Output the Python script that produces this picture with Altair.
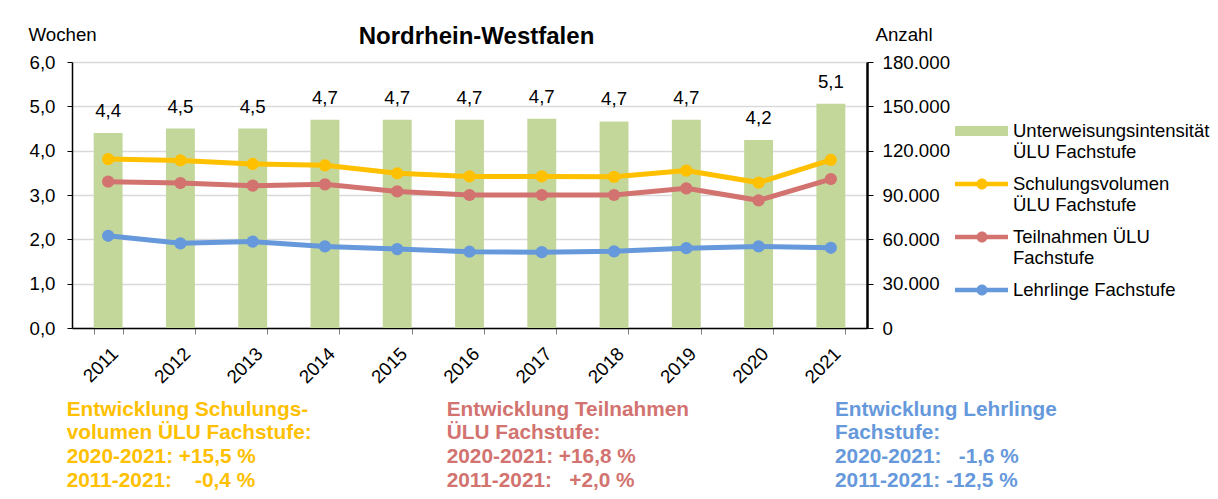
import altair as alt
import pandas as pd

# ---------------- data ----------------
years = ["2011", "2012", "2013", "2014", "2015", "2016", "2017", "2018", "2019", "2020", "2021"]
intensitaet = [4.40, 4.50, 4.50, 4.70, 4.70, 4.70, 4.72, 4.66, 4.70, 4.24, 5.06]
schulungsvolumen = [114300, 113400, 111000, 110100, 104700, 102600, 102600, 102300, 106500, 98400, 113700]
teilnahmen = [99000, 98100, 96300, 97200, 92400, 90000, 90000, 90000, 94500, 86400, 100800]
lehrlinge = [62400, 57300, 58500, 55200, 53400, 51600, 51300, 51900, 54000, 55200, 54300]

series_names = ["Schulungsvolumen ÜLU Fachstufe", "Teilnahmen ÜLU Fachstufe", "Lehrlinge Fachstufe"]
series_colors = ["#FFC000", "#D27370", "#6699DB"]
bar_color = "#C4D79B"

legend_labels = ["Unterweisungsintensität|ÜLU Fachstufe", "Schulungsvolumen|ÜLU Fachstufe",
                 "Teilnahmen ÜLU|Fachstufe", "Lehrlinge Fachstufe"]

NB = "\u00a0"
text_yellow = ["Entwicklung Schulungs-", "volumen ÜLU Fachstufe:", "2020-2021: +15,5 %",
               "2011-2021:" + NB * 4 + "-0,4 %"]
text_red = ["Entwicklung Teilnahmen", "ÜLU Fachstufe:", "2020-2021: +16,8 %",
            "2011-2021:" + NB * 3 + "+2,0 %"]
text_blue = ["Entwicklung Lehrlinge", "Fachstufe:", "2020-2021:" + NB * 3 + "-1,6 %",
             "2011-2021: -12,5 %"]

FONT = "Liberation Sans"
FS = 18.7
W, H = 795, 266

# ---------------- tables ----------------
bars_df = pd.DataFrame({"Jahr": years, "Wochen": intensitaet})
rows = []
for name, vals in zip(series_names, [schulungsvolumen, teilnahmen, lehrlinge]):
    for y, v in zip(years, vals):
        rows.append({"Jahr": y, "Serie": name, "Anzahl": v})
lines_df = pd.DataFrame(rows)
legend_df = pd.DataFrame({"Legende": legend_labels})

x_enc = alt.X("Jahr:O", sort=years,
              scale=alt.Scale(paddingInner=0.6, paddingOuter=0.3),
              axis=alt.Axis(title=None, labelAngle=-45, labelFontSize=FS, labelFont=FONT,
                            labelColor="black", tickBand="extent", tickSize=6, tickColor="#7f7f7f",
                            domainColor="black", domainWidth=1.5, labelPadding=10, grid=False))

left_axis = alt.Axis(title="Wochen", titleAngle=0, titleX=-44, titleY=-22, titleAlign="left",
                     titleBaseline="alphabetic", titleFont=FONT, titleFontSize=FS, titleFontWeight="normal",
                     titleColor="black",
                     values=[0, 1, 2, 3, 4, 5, 6], labelExpr="replace(format(datum.value, '.1f'), '.', ',')",
                     labelFont=FONT, labelFontSize=FS, labelColor="black", labelPadding=12,
                     tickSize=5, tickColor="black", domainColor="black", domainWidth=1.5,
                     grid=True, gridColor="#D9D9D9", gridWidth=1.5, orient="left")

right_axis = alt.Axis(title="Anzahl", titleAngle=0, titleX=8, titleY=-22, titleAlign="left",
                      titleBaseline="alphabetic", titleFont=FONT, titleFontSize=FS, titleFontWeight="normal",
                      titleColor="black",
                      values=[0, 30000, 60000, 90000, 120000, 150000, 180000],
                      labelExpr="replace(format(datum.value, ',d'), ',', '.')",
                      labelFont=FONT, labelFontSize=FS, labelColor="black", labelPadding=9,
                      tickSize=6, tickColor="black", domainColor="black", domainWidth=2.5,
                      grid=False, orient="right")

base_bar = alt.Chart(bars_df)
bars = base_bar.mark_bar(color=bar_color).encode(
    x=x_enc,
    y=alt.Y("Wochen:Q", scale=alt.Scale(domain=[0, 6], nice=False), axis=left_axis),
)
bar_labels = base_bar.mark_text(dy=-22, baseline="middle", fontSize=FS, font=FONT, color="black").transform_calculate(
    lab="replace(format(datum.Wochen, '.1f'), '.', ',')"
).encode(
    x=alt.X("Jahr:O", sort=years),
    y=alt.Y("Wochen:Q"),
    text="lab:N",
)
left = alt.layer(bars, bar_labels)

color_scale = alt.Scale(domain=series_names, range=series_colors)
base_line = alt.Chart(lines_df)
lines = base_line.mark_line(strokeWidth=5).encode(
    x=alt.X("Jahr:O", sort=years),
    y=alt.Y("Anzahl:Q", scale=alt.Scale(domain=[0, 180000], nice=False), axis=right_axis),
    color=alt.Color("Serie:N", scale=color_scale, legend=None),
    order=alt.Order("Jahr:O"),
)
points = base_line.mark_point(filled=True, size=150, opacity=1).encode(
    x=alt.X("Jahr:O", sort=years),
    y=alt.Y("Anzahl:Q"),
    color=alt.Color("Serie:N", scale=color_scale, legend=None),
)
right = alt.layer(lines, points)

# legend-only layer (no marks drawn, legend built from explicit scale domains)
rect_path = "M-1,-0.5L4.3,-0.5L4.3,0.5L-1,0.5Z"
line_dot = ("M-1,-0.22L4.3,-0.22L4.3,0.22L-1,0.22Z "
            "M1.15,0A0.55,0.55 0 1,1 2.25,0A0.55,0.55 0 1,1 1.15,0Z")
legend_layer = alt.Chart(legend_df).mark_point(filled=True, size=400, opacity=1).transform_filter(
    "datum.Legende == 'none'"
).encode(
    color=alt.Color("Legende:N",
                    scale=alt.Scale(domain=legend_labels, range=[bar_color] + series_colors),
                    legend=alt.Legend(title=None, orient="none", legendX=883, legendY=59,
                                      labelExpr="split(datum.label, '|')",
                                      labelFont=FONT, labelFontSize=18.5, labelColor="black",
                                      labelLimit=400, labelOffset=38, symbolSize=400,
                                      symbolStrokeWidth=0, rowPadding=13, padding=0)),
    shape=alt.Shape("Legende:N",
                    scale=alt.Scale(domain=legend_labels,
                                    range=[rect_path, line_dot, line_dot, line_dot]),
                    legend=None),
)


def note(lines_text, color, xpos):
    return alt.Chart(pd.DataFrame({"k": [0]})).mark_text(
        align="left", baseline="alphabetic", font=FONT, fontSize=20.8, fontWeight="bold",
        color=color, lineHeight=23.7
    ).encode(x=alt.value(xpos), y=alt.value(353.7), text=alt.value(lines_text))


notes = [note(text_yellow, "#FFC000", -5.3), note(text_red, "#D27370", 374.7), note(text_blue, "#6699DB", 763)]

chart = alt.layer(left, right, legend_layer, *notes).resolve_scale(
    y="independent", color="independent", shape="independent"
).properties(
    width=W, height=H,
    title=alt.TitleParams("Nordrhein-Westfalen", font=FONT, fontSize=24, fontWeight="bold",
                          color="black", anchor="middle", dx=7, dy=32, offset=8),
    autosize=alt.AutoSizeParams(type="none"),
    padding={"left": 64, "top": 54, "right": 343, "bottom": 163},
).configure_view(stroke=None)

chart.save("out.html", embed_options={"renderer": "svg", "actions": False})
